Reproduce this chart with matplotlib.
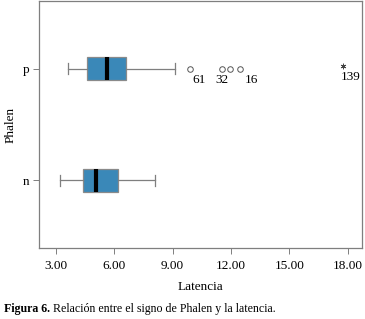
import matplotlib.pyplot as plt

plt.rcParams['font.family'] = ['Liberation Serif', 'DejaVu Serif']

groups = ['n', 'p']
# five-number summaries: whisker low, Q1, median, Q3, whisker high
stats_n = [3.2, 4.38, 5.08, 6.18, 8.08]
stats_p = [3.62, 4.6, 5.62, 6.62, 9.1]
outliers_p = [9.87, 11.55, 11.94, 12.47]
outlier_labels = ['61', '32', '', '16']
extreme_p = [17.73]
extreme_labels = ['139']

fig = plt.figure(figsize=(3.65, 3.19), dpi=100)
ax = fig.add_axes([0.108, 0.2226, 0.884, 0.7743])

bxp = []
for name, s in zip(groups, [stats_n, stats_p]):
    bxp.append({'label': name, 'whislo': s[0], 'q1': s[1], 'med': s[2],
                'q3': s[3], 'whishi': s[4], 'fliers': []})

gray = '#7f7f7f'
ax.bxp(bxp, positions=[1, 2], vert=False, widths=0.205, patch_artist=True,
       showfliers=False,
       boxprops=dict(facecolor='#3a88b8', edgecolor='#8a8a8a', linewidth=0.9),
       medianprops=dict(color='black', linewidth=3),
       whiskerprops=dict(color=gray, linewidth=0.9),
       capprops=dict(color=gray, linewidth=0.9))

ax.plot(outliers_p, [2] * len(outliers_p), 'o', mfc='white', mec='#555555',
        ms=4, mew=0.7, ls='none')
ax.plot(extreme_p, [2.02], marker=(6, 2, 0), color='#444444', ms=4, mew=0.6,
        ls='none')

lab_off = {'61': (2, -8), '32': (-5, -8), '16': (3, -8)}
for x, t in zip(outliers_p, outlier_labels):
    if t:
        ax.annotate(t, (x, 2), xytext=lab_off[t], textcoords='offset points',
                    fontsize=9.5, ha='left', va='center')
for x, t in zip(extreme_p, extreme_labels):
    ax.annotate(t, (x, 2), xytext=(-1, -6), textcoords='offset points',
                fontsize=9.5, ha='left', va='center')

ax.set_xlim(2.158, 18.73)
ax.set_ylim(0.393, 2.607)
ax.set_xticks([3, 6, 9, 12, 15, 18])
ax.set_xticklabels(['3.00', '6.00', '9.00', '12.00', '15.00', '18.00'])
ax.set_yticks([1, 2])
ax.set_yticklabels(groups)
ax.tick_params(labelsize=9.5, color=gray, length=4, width=0.7)
ax.tick_params(axis='x', pad=5)
for sp in ax.spines.values():
    sp.set_color(gray)
    sp.set_linewidth(0.9)
ax.set_xlabel('Latencia', fontsize=9.5, labelpad=6)
ax.set_ylabel('Phalen', fontsize=9.5, labelpad=4)

t1 = fig.text(0.012, 0.022, 'Figura 6.', fontsize=8.6, fontweight='bold',
              va='baseline')
fig.canvas.draw()
bb = t1.get_window_extent().transformed(fig.transFigure.inverted())
fig.text(bb.x1 + 0.008, 0.022,
         'Relación entre el signo de Phalen y la latencia.',
         fontsize=8.6, va='baseline')

fig.savefig('out.png', dpi=100)
